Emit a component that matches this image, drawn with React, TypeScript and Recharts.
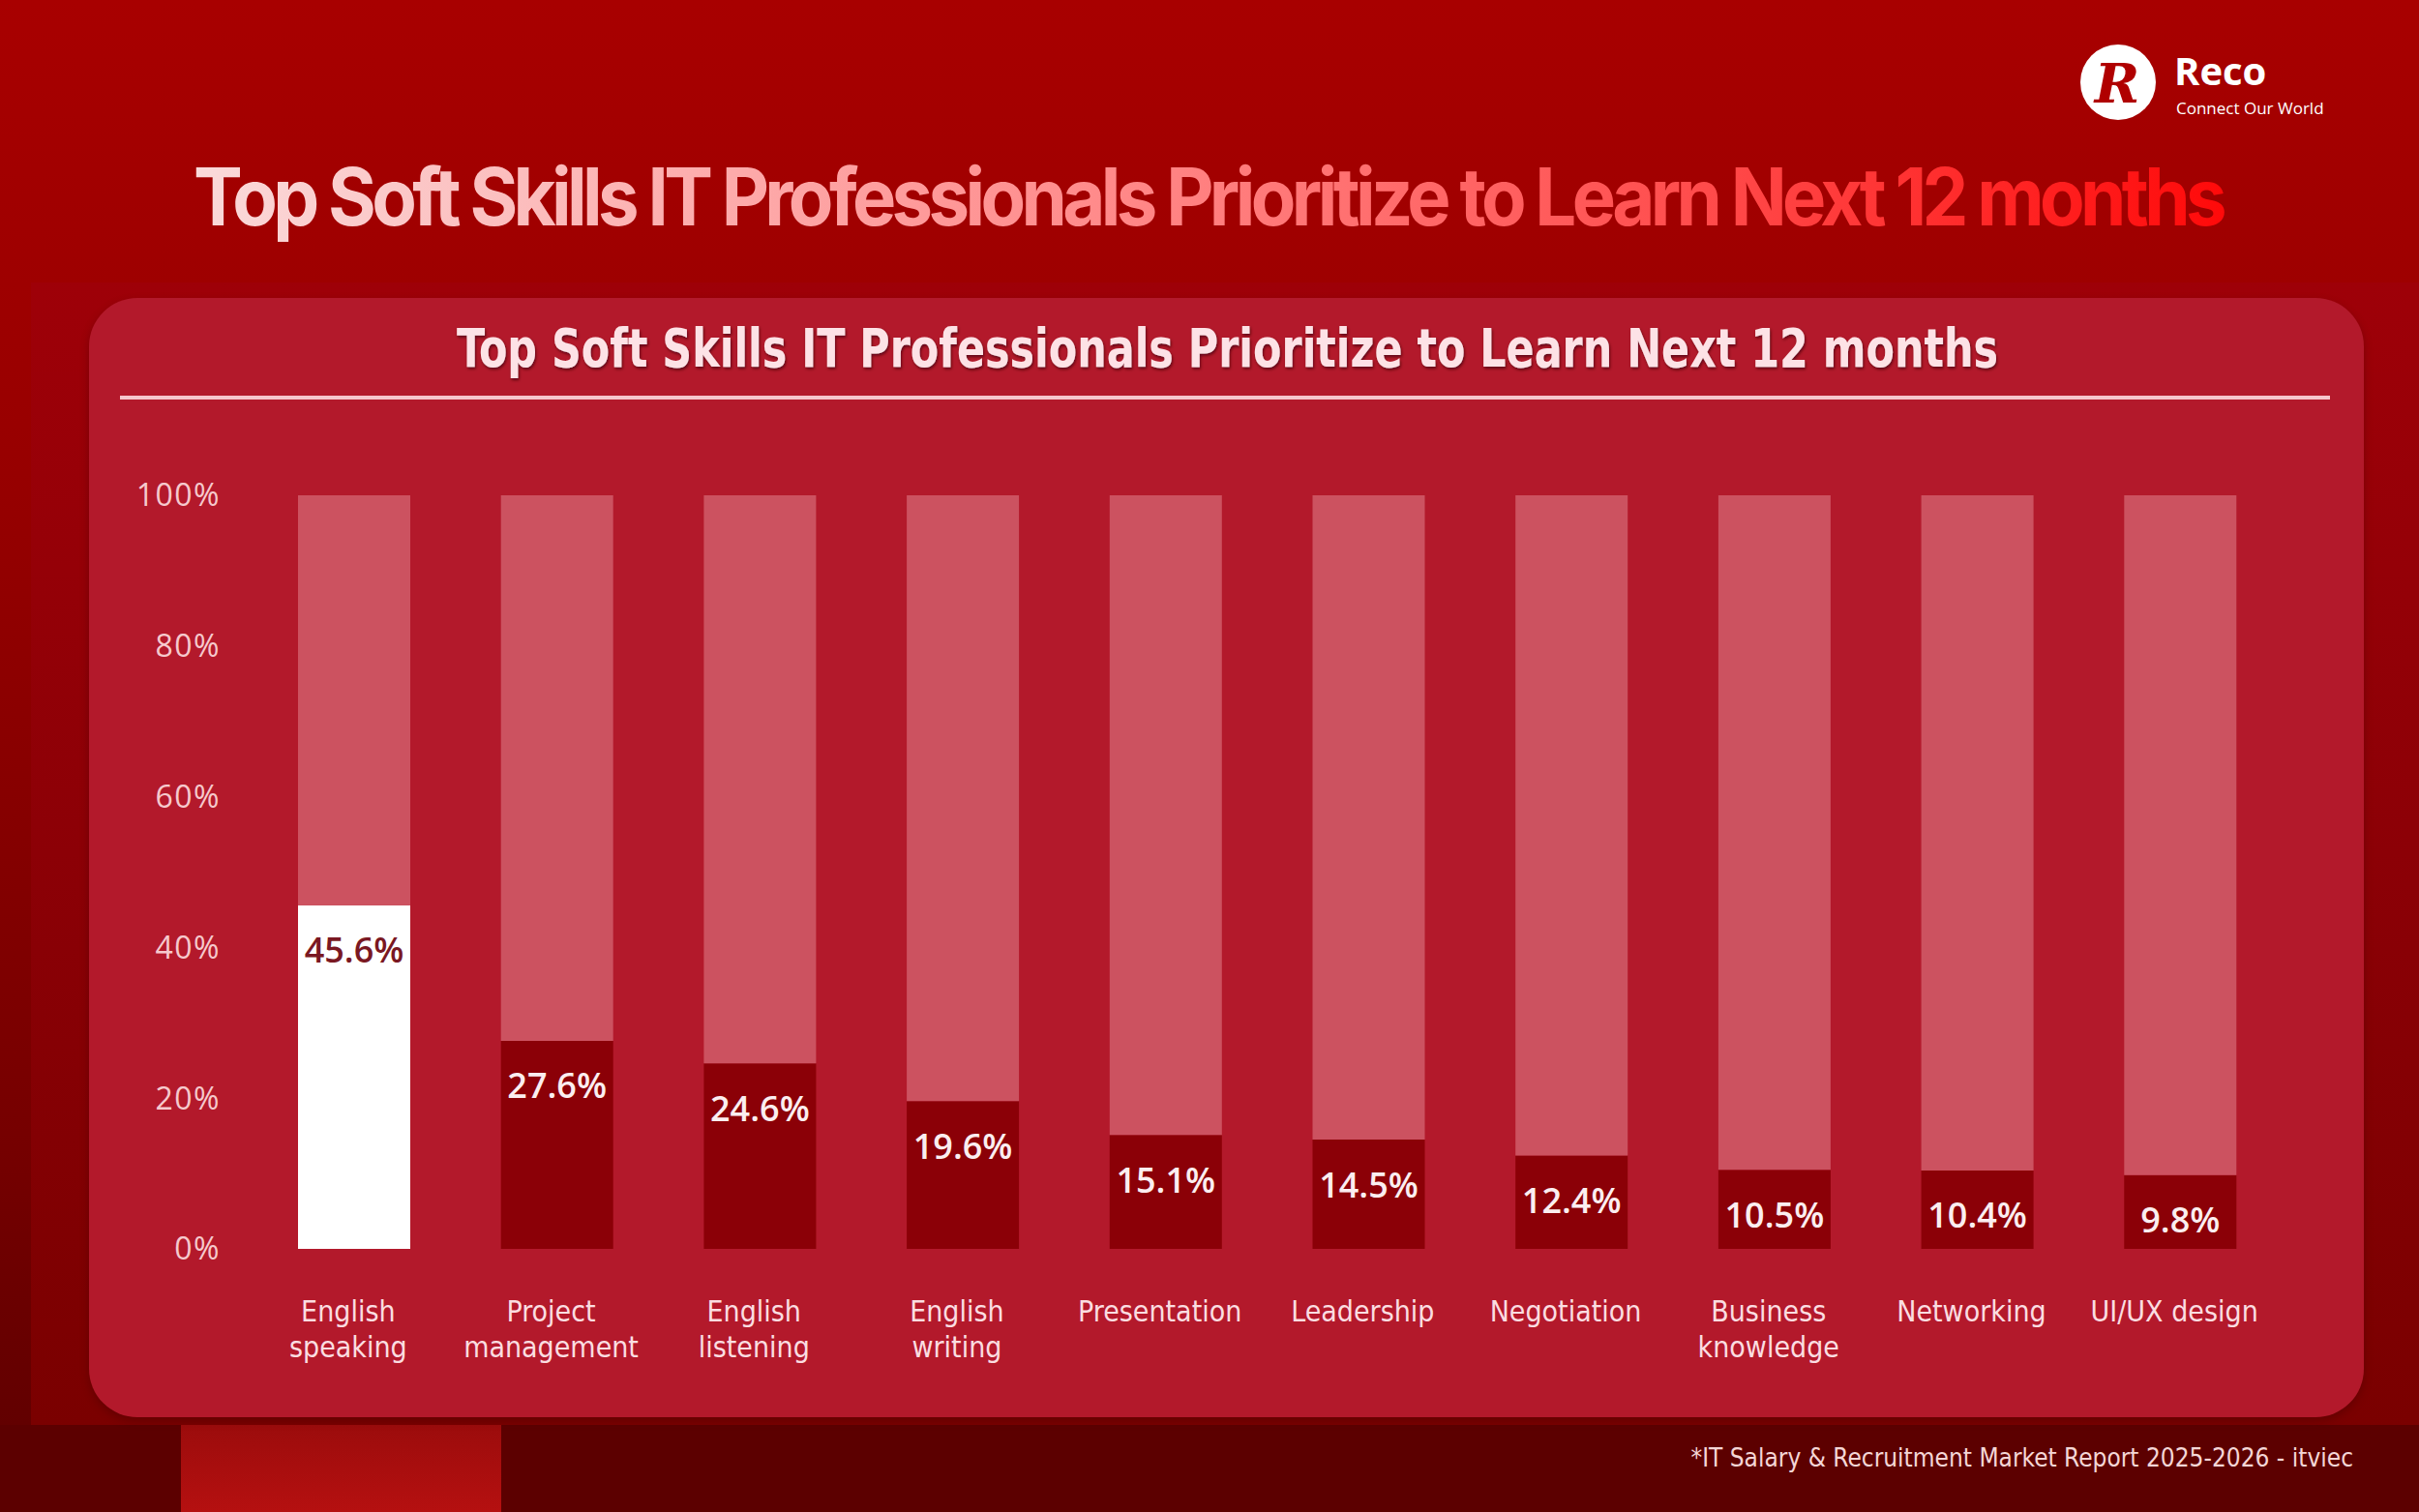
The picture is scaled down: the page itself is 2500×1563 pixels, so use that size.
import React from "react";
import { BarChart, Bar, XAxis, YAxis, Cell, LabelList } from "recharts";

const categories = [
  "English\nspeaking",
  "Project\nmanagement",
  "English\nlistening",
  "English\nwriting",
  "Presentation",
  "Leadership",
  "Negotiation",
  "Business\nknowledge",
  "Networking",
  "UI/UX design",
];
const values = [45.6, 27.6, 24.6, 19.6, 15.1, 14.5, 12.4, 10.5, 10.4, 9.8];
const yTicks = [0, 20, 40, 60, 80, 100];
const titleText = "Top Soft Skills IT Professionals Prioritize to Learn Next 12 months";
const footerText = "*IT Salary & Recruitment Market Report 2025-2026 - itviec";

const data = categories.map((c, i) => ({
  name: c,
  value: values[i],
  rest: 100 - values[i],
}));

const COND = "'DejaVu Sans Condensed', 'DejaVu Sans', sans-serif";

const XTick = (props: any) => {
  const { x, y, payload } = props;
  const lines = String(payload.value).split("\n");
  return (
    <text
      x={x}
      y={y}
      textAnchor="middle"
      fill="#fbdde1"
      fontFamily={COND}
      fontSize={30}
      style={{ fontStretch: "condensed" }}
    >
      {lines.map((l, i) => (
        <tspan key={i} x={x - 6} y={y + 75 + i * 37}>
          {l}
        </tspan>
      ))}
    </text>
  );
};

const ValueLabel = (props: any) => {
  const { x, y, width, value, index } = props;
  return (
    <text
      x={x + width / 2}
      y={y + 46}
      textAnchor="middle"
      dominantBaseline="central"
      fill={index === 0 ? "#7a1822" : "#fbeef0"}
      fontFamily="'Open Sans', sans-serif"
      fontWeight={600}
      fontSize={36}
    >
      {value}%
    </text>
  );
};

export default function App() {
  return (
    <div
      style={{
        position: "absolute",
        left: 0,
        top: 0,
        width: 2500,
        height: 1563,
        overflow: "hidden",
        background: "linear-gradient(180deg, #a80000 0%, #980000 30%, #760000 75%, #5c0000 100%)",
      }}
    >
      {/* frame */}
      <div
        style={{
          position: "absolute",
          left: 32,
          top: 292,
          width: 2468,
          height: 1181,
          background: "linear-gradient(180deg, #9e0008 0%, #8c0006 50%, #7a0000 100%)",
        }}
      />
      {/* footer */}
      <div style={{ position: "absolute", left: 0, top: 1473, width: 2500, height: 90, background: "#5c0000" }} />
      <div
        style={{
          position: "absolute",
          left: 187,
          top: 1473,
          width: 331,
          height: 90,
          background: "linear-gradient(180deg, #9c0c0c, #b51010)",
        }}
      />
      <div
        style={{
          position: "absolute",
          right: 68,
          top: 1490,
          fontFamily: COND,
          fontStretch: "condensed",
          fontSize: 26,
          color: "#f4d6d6",
          whiteSpace: "nowrap",
          lineHeight: "34px",
        }}
      >
        {footerText}
      </div>
      {/* card */}
      <div
        style={{
          position: "absolute",
          left: 92,
          top: 308,
          width: 2351,
          height: 1157,
          borderRadius: 50,
          background: "#b3192b",
          boxShadow: "0 4px 8px rgba(60,0,0,0.35)",
        }}
      />
      {/* logo */}
      <svg style={{ position: "absolute", left: 2150, top: 46 }} width={80} height={80}>
        <circle cx={39} cy={39} r={39} fill="#ffffff" />
        <text
          x={38}
          y={60}
          textAnchor="middle"
          fontFamily="'DejaVu Serif', serif"
          fontStyle="italic"
          fontWeight={700}
          fontSize={56}
          fill="#b00000"
        >
          R
        </text>
      </svg>
      <div
        style={{
          position: "absolute",
          left: 2247,
          top: 55,
          fontFamily: "'Open Sans', sans-serif",
          fontWeight: 700,
          fontSize: 40,
          color: "#ffffff",
          lineHeight: "36px",
        }}
      >
        Reco
      </div>
      <div
        style={{
          position: "absolute",
          left: 2249,
          top: 103,
          fontFamily: "'Open Sans', sans-serif",
          fontSize: 17,
          color: "#ffffff",
          lineHeight: "18px",
          whiteSpace: "nowrap",
        }}
      >
        Connect Our World
      </div>
      {/* titles */}
      <svg style={{ position: "absolute", left: 0, top: 0 }} width={2500} height={450}>
        <defs>
          <linearGradient id="tg" x1="200" y1="0" x2="2297" y2="0" gradientUnits="userSpaceOnUse">
            <stop offset="0" stopColor="#fadada" />
            <stop offset="0.45" stopColor="#ff8a8a" />
            <stop offset="0.75" stopColor="#ff4a4a" />
            <stop offset="1" stopColor="#ff0a0a" />
          </linearGradient>
          <filter id="ds" x="-5%" y="-30%" width="110%" height="160%">
            <feDropShadow dx="1" dy="2" stdDeviation="1.5" floodColor="#4a0008" floodOpacity="0.8" />
          </filter>
        </defs>
        <text
          x={200}
          y={233}
          textLength={2097}
          lengthAdjust="spacingAndGlyphs"
          fontFamily="Inter, 'Open Sans', sans-serif"
          fontWeight={700}
          fontSize={82}
          letterSpacing={-5}
          fill="url(#tg)"
        >
          {titleText}
        </text>
        <text
          x={472}
          y={379}
          textLength={1593}
          lengthAdjust="spacingAndGlyphs"
          fontFamily={COND}
          fontWeight={700}
          fontSize={55}
          fill="#fde2e6"
          filter="url(#ds)"
        >
          {titleText}
        </text>
        <rect x={124} y={409} width={2284} height={4} fill="#f6c6cc" />
      </svg>
      {/* chart */}
      <div style={{ position: "absolute", left: 0, top: 0 }}>
        <BarChart
          width={2500}
          height={1563}
          data={data}
          margin={{ top: 512, right: 142, bottom: 122, left: 161 }}
        >
          <XAxis
            dataKey="name"
            axisLine={false}
            tickLine={false}
            tickSize={0}
            tickMargin={0}
            height={150}
            interval={0}
            tick={<XTick />}
          />
          <YAxis
            width={100}
            domain={[0, 100]}
            ticks={yTicks}
            axisLine={false}
            tickLine={false}
            tickSize={0}
            tickMargin={33}
            tickFormatter={(v: number) => `${v}%`}
            tick={{ fill: "#f6c9cd", fontSize: 32, fontFamily: "'Open Sans', sans-serif", letterSpacing: 1.5 }}
          />
          <Bar dataKey="value" stackId="a" barSize={116} fill="#8b0007" isAnimationActive={false}>
            {data.map((d, i) => (
              <Cell key={i} fill={i === 0 ? "#ffffff" : "#8b0007"} />
            ))}
            <LabelList dataKey="value" content={<ValueLabel />} />
          </Bar>
          <Bar dataKey="rest" stackId="a" barSize={116} fill="#cc5260" isAnimationActive={false} />
        </BarChart>
      </div>
    </div>
  );
}
